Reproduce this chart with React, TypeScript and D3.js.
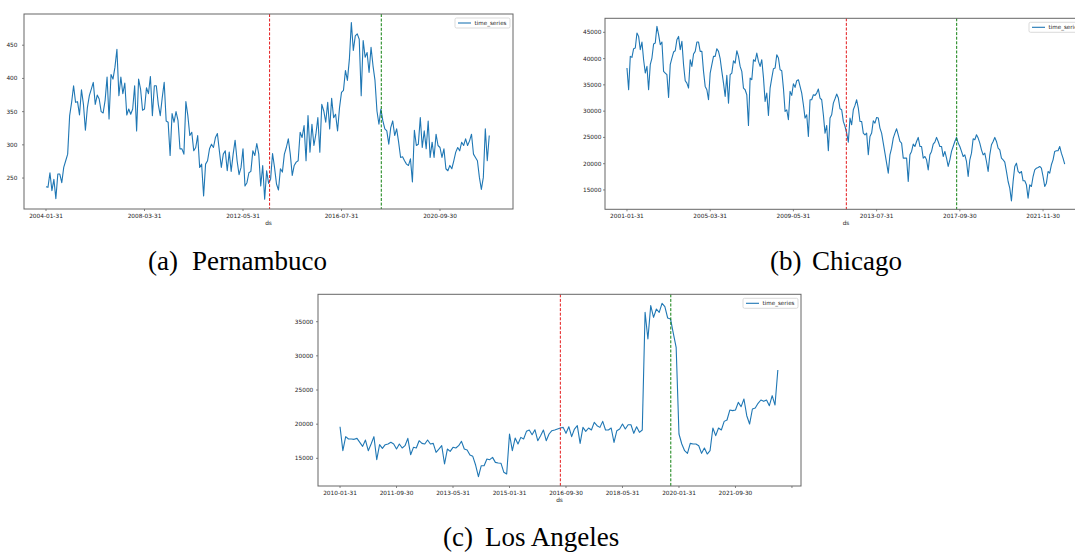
import React from 'react';
import * as d3 from 'd3';

// monthly values
const pernambuco = [
  237, 236, 258, 231, 248, 219, 256, 256, 243, 266, 276, 286,
  344, 364, 389, 364, 365, 345, 383, 361, 322, 356, 374, 384,
  394, 361, 375, 369, 350, 348, 367, 402, 339, 406, 399, 417,
  444, 374, 402, 377, 393, 345, 354, 346, 354, 389, 321, 399,
  384, 352, 354, 386, 377, 403, 344, 389, 389, 361, 344, 371,
  394, 336, 334, 284, 347, 334, 350, 337, 294, 294, 286, 365,
  344, 314, 319, 291, 296, 314, 266, 271, 223, 271, 276, 294,
  301, 296, 311, 317, 291, 266, 286, 291, 261, 289, 260, 286,
  307, 276, 255, 266, 294, 238, 243, 258, 260, 291, 284, 302,
  286, 238, 269, 218, 261, 242, 248, 287, 266, 241, 232, 264,
  259, 286, 296, 309, 286, 254, 269, 274, 276, 319, 311, 329,
  276, 344, 289, 331, 299, 316, 341, 289, 361, 351, 334, 364,
  324, 370, 341, 346, 321, 356, 379, 382, 412, 397, 429, 484,
  442, 464, 467, 459, 374, 457, 432, 439, 409, 447, 419, 397,
  351, 331, 354, 336, 324, 321, 301, 326, 336, 314, 324, 304,
  281, 282, 276, 271, 269, 279, 244, 322, 299, 301, 341, 296,
  321, 294, 336, 281, 304, 281, 316, 299, 296, 281, 294, 264,
  261, 269, 264, 276, 289, 296, 291, 304, 299, 309, 299, 306,
  316, 286, 281, 276, 251, 233, 251, 324, 276, 314,
];

const chicago = [
  38200, 34070, 40420, 40230, 41880, 42010, 44870, 44230, 41690, 43150, 39790, 37250,
  38520, 34070, 38840, 40110, 42770, 42960, 46140, 44550, 42650, 43150, 37570, 37250,
  36930, 32610, 38840, 40110, 41250, 41500, 43600, 44230, 41690, 43280, 38840, 35790,
  35340, 34390, 39790, 38520, 40870, 41380, 43150, 43150, 41380, 41380, 37570, 34710,
  34070, 32170, 37250, 38840, 40420, 40420, 41880, 41380, 39980, 37570, 35340, 32800,
  36800, 31530, 36930, 37250, 39600, 39150, 41500, 40420, 38520, 37570, 34390, 34070,
  33120, 27280, 36300, 35980, 39790, 39470, 41060, 39470, 38520, 39790, 36420, 31850,
  33440, 29180, 34390, 36300, 38070, 38200, 40740, 40110, 37880, 37690, 34390, 29950,
  30260, 28360, 33760, 33000, 35220, 34520, 35790, 35980, 34710, 33440, 31220, 28680,
  29310, 25180, 32170, 32170, 33120, 33000, 33440, 34200, 32490, 32170, 29310, 25820,
  27280, 22450, 28680, 29310, 31530, 32360, 33250, 32490, 30450, 30260, 28040, 27090,
  25820, 24110, 28680, 27410, 30260, 31090, 32170, 30580, 28040, 28040, 25820, 25500,
  25820, 21690, 25180, 25820, 28170, 27730, 28800, 28680, 26770, 25820, 23920, 22010,
  20100, 18200, 21690, 22960, 24870, 25820, 26640, 25500, 24230, 23920, 21060, 21060,
  21060, 16610, 21690, 22330, 23720, 23280, 24230, 25000, 23280, 23280, 21060, 21370,
  20740, 18830, 21690, 22330, 23720, 24110, 25000, 24230, 23280, 23280, 21370, 22330,
  21060, 19470, 20740, 22330, 23280, 24230, 25000, 23920, 23280, 22330, 21370, 21690,
  20420, 17560, 20740, 22010, 24740, 24550, 25500, 24870, 23920, 22640, 21690, 22010,
  20420, 18520, 21690, 23600, 24230, 25000, 24230, 22960, 22640, 21060, 20740, 20290,
  18520, 16610, 15340, 12930, 16610, 19470, 20100, 18520, 18200, 18520, 16740, 16740,
  15980, 13440, 15980, 15660, 17560, 18830, 19150, 19280, 19470, 19150, 17560, 15660,
  16290, 18520, 18200, 19790, 20740, 22330, 22450, 22450, 23280, 22010, 21060, 19910,
];

const losAngeles = [
  19630, 16120, 18170, 17830, 17830, 17780, 17920, 17340, 16750, 17680, 16120, 17100,
  18170, 14800, 17000, 16460, 17000, 17100, 17340, 17100, 16360, 17100, 16510, 16850,
  17920, 15530, 16610, 16510, 17580, 17190, 17100, 17680, 17100, 17190, 15880, 16360,
  16850, 14170, 16360, 16020, 16610, 16510, 16850, 17490, 16360, 16220, 15480, 15290,
  14020, 12310, 13920, 13920, 14900, 14800, 15140, 14410, 14310, 14270, 12950, 12700,
  18560, 16120, 17970, 17100, 18070, 17830, 18950, 19150, 18460, 19190, 17580, 18320,
  19150, 17580, 18560, 19050, 19150, 19290, 19440, 19530, 18660, 19630, 18170, 19290,
  19780, 17190, 19530, 18950, 19440, 19150, 20270, 19780, 19530, 20410, 19150, 19150,
  19440, 17340, 19050, 19290, 20020, 19290, 19920, 19920, 18660, 19630, 18800, 19150,
  36370, 32470, 37350, 35640, 36860, 36370, 37690, 37200, 35540, 35400, 33300, 31250,
  18560, 17100, 16120, 15730, 17190, 17100, 17100, 16850, 15730, 16510, 15630, 16120,
  19440, 18320, 19440, 19150, 20410, 20610, 22070, 21980, 22070, 23190, 22560, 23680,
  21240, 20020, 22220, 22360, 23050, 23540, 23340, 23540, 22710, 24170, 22800, 27930,
];

const datesA = ['2004-01-31', '2008-03-31', '2012-05-31', '2016-07-31', '2020-09-30'];
const datesB = ['2001-01-31', '2005-03-31', '2009-05-31', '2013-07-31', '2017-09-30', '2021-11-30'];
const datesC = ['2010-01-31', '2011-09-30', '2013-05-31', '2015-01-31', '2016-09-30', '2018-05-31', '2020-01-31', '2021-09-30', ''];

const yTicksA = [250, 300, 350, 400, 450];
const yTicksB = [15000, 20000, 25000, 30000, 35000, 40000, 45000];
const yTicksC = [15000, 20000, 25000, 30000, 35000];

const FONT = 'DejaVu Sans, sans-serif';

type PanelProps = {
  values: number[];
  left: number; right: number; top: number; bottom: number;
  xDomain: [number, number];
  yDomain: [number, number];
  yTicks: number[];
  dates: string[];
  step: number;
  red: number;
  green: number;
  yGap: number;
};

function Panel(p: PanelProps) {
  const x = d3.scaleLinear().domain(p.xDomain).range([p.left, p.right]);
  const y = d3.scaleLinear().domain(p.yDomain).range([p.bottom, p.top]);
  const line = d3.line<number>().x((_, i) => x(i)).y(d => y(d));
  const lgW = 55;
  const lgX = p.right - 3 - lgW;
  const lgY = p.top + 4;

  return (
    <g fontFamily={FONT} fill="#222">
      <path d={line(p.values) || ''} fill="none" stroke="#1f77b4" strokeWidth={1.1} strokeLinejoin="round" />
      <line x1={x(p.red)} x2={x(p.red)} y1={p.top} y2={p.bottom} stroke="#e41a1c" strokeWidth={1} strokeDasharray="3,1.6" />
      <line x1={x(p.green)} x2={x(p.green)} y1={p.top} y2={p.bottom} stroke="#108010" strokeWidth={1} strokeDasharray="3,1.6" />
      <rect x={p.left} y={p.top} width={p.right - p.left} height={p.bottom - p.top} fill="none" stroke="#666" strokeWidth={1} />
      {p.yTicks.map(t => (
        <g key={t}>
          <line x1={p.left - 2} x2={p.left} y1={y(t)} y2={y(t)} stroke="#666" strokeWidth={0.8} />
          <text x={p.left - p.yGap} y={y(t)} dy="0.35em" textAnchor="end" fontSize={5.8}>{t}</text>
        </g>
      ))}
      {p.dates.map((d, i) => (
        <g key={i}>
          <line x1={x(i * p.step)} x2={x(i * p.step)} y1={p.bottom} y2={p.bottom + 2} stroke="#666" strokeWidth={0.8} />
          <text x={x(i * p.step)} y={p.bottom + 6.7} dy="0.35em" textAnchor="middle" fontSize={5.8}>{d}</text>
        </g>
      ))}
      <text x={(p.left + p.right) / 2} y={p.bottom + 14} dy="0.35em" textAnchor="middle" fontSize={5.8}>ds</text>
      <rect x={lgX} y={lgY} width={lgW} height={10} rx={1.5} fill="#fff" stroke="#ccc" strokeWidth={0.7} />
      <line x1={lgX + 3} x2={lgX + 16} y1={lgY + 5} y2={lgY + 5} stroke="#1f77b4" strokeWidth={1.1} />
      <text x={lgX + 19.5} y={lgY + 5} dy="0.35em" fontSize={5.6}>time_series</text>
    </g>
  );
}

export default function App() {
  return (
    <svg width={1075} height={552} style={{ position: 'absolute', left: 0, top: 0, background: '#fff' }}>
      <Panel values={pernambuco} left={24} right={513} top={14} bottom={209}
        xDomain={[-11.17, 237.06]} yDomain={[203.4, 497]} yTicks={yTicksA}
        dates={datesA} step={50} red={113.5} green={170.2} yGap={6.5} />
      <Panel values={chicago} left={605} right={1087} top={18.3} bottom={209.3}
        xDomain={[-13.2, 276.4]} yDomain={[11320, 47670]} yTicks={yTicksB}
        dates={datesB} step={50} red={131.8} green={198.1} yGap={3.6} />
      <Panel values={losAngeles} left={318} right={801} top={294.3} bottom={486}
        xDomain={[-7.8, 163.2]} yDomain={[10950, 39010]} yTicks={yTicksC}
        dates={datesC} step={20} red={78} green={117.1} yGap={4.7} />
      <g fontFamily="Liberation Serif, Times New Roman, serif" fontSize={27} fill="#000">
        <text x={148} y={270}>(a)</text>
        <text x={192} y={270}>Pernambuco</text>
        <text x={770} y={270}>(b)</text>
        <text x={812} y={270}>Chicago</text>
        <text x={443} y={546}>(c)</text>
        <text x={485} y={546}>Los Angeles</text>
      </g>
    </svg>
  );
}
